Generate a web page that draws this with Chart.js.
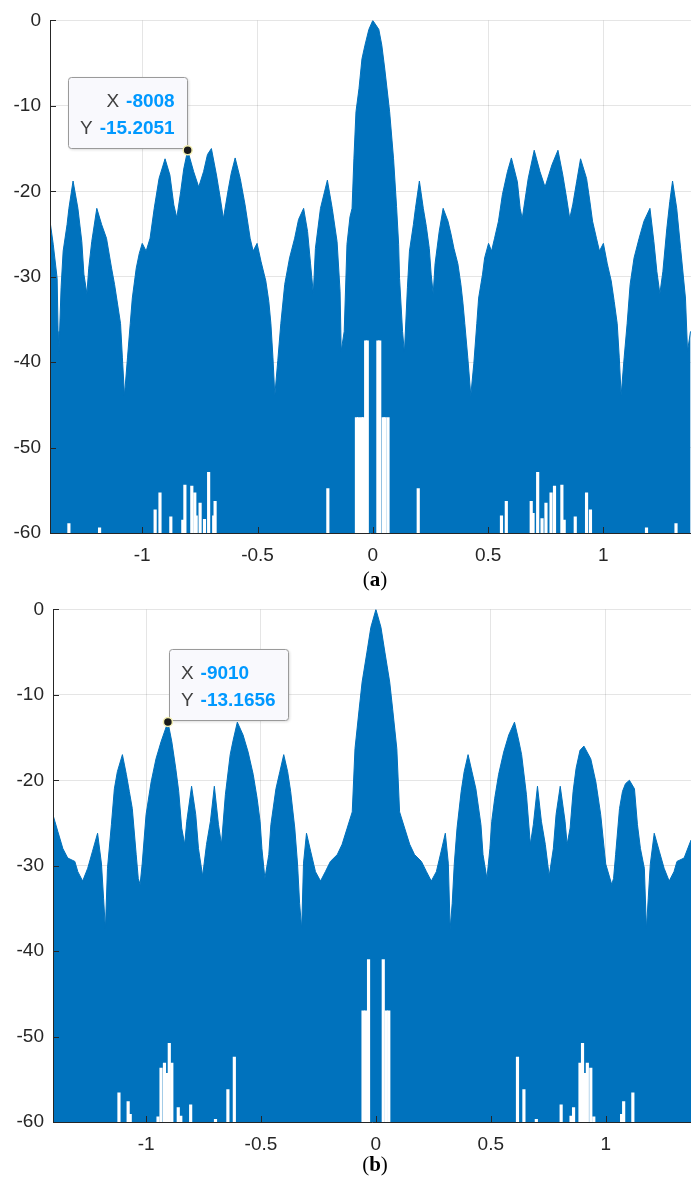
<!DOCTYPE html>
<html>
<head>
<meta charset="utf-8">
<script src="https://cdn.jsdelivr.net/npm/chart.js@4.4.0/dist/chart.umd.min.js"></script>
<style>
  html, body { margin: 0; padding: 0; background: #fff; }
  body { width: 697px; height: 1184px; position: relative; overflow: hidden; }
  .panel { position: absolute; left: 0; }
  #wrapA { top: 0; }
  #wrapB { top: 589px; }
  .cap { position: absolute; left: 0; width: 750px; text-align: center;
         font: 21px "Liberation Serif", "DejaVu Serif", serif; color: #000; }
  .cap b { font-weight: bold; }
</style>
</head>
<body>
<div class="panel" id="wrapA"><canvas id="chartA" width="697" height="580"></canvas></div>
<div class="panel" id="wrapB"><canvas id="chartB" width="697" height="580"></canvas></div>
<div class="cap" style="top:567px">(<b>a</b>)</div>
<div class="cap" style="top:1152px">(<b>b</b>)</div>
<script>
// axis ticks
const xTicks = [-1, -0.5, 0, 0.5, 1];
const yTicks = [-60, -50, -40, -30, -20, -10, 0];
const rangeA = [-1.40, 1.38];
const rangeB = [-1.405, 1.371];

// (a) upper envelope of the spectrum, [x, dB]
const envA = [
  [-1.40,-23.5],[-1.386,-26.2],[-1.369,-30.2],[-1.365,-36.4],[-1.361,-38.7],
  [-1.352,-31.3],[-1.343,-27.0],[-1.326,-23.9],[-1.318,-22.0],[-1.300,-18.8],
  [-1.279,-22.0],[-1.262,-25.9],[-1.253,-29.7],[-1.240,-32.0],
  [-1.232,-29.0],[-1.219,-25.9],[-1.197,-22.0],
  [-1.176,-23.9],[-1.155,-25.5],[-1.133,-29.0],[-1.120,-30.9],[-1.107,-33.2],[-1.094,-35.5],[-1.086,-39.5],[-1.077,-43.9],
  [-1.064,-39.5],[-1.052,-35.5],[-1.043,-32.5],[-1.026,-29.0],[-1.013,-27.3],[-1.000,-26.1],[-0.983,-27.0],[-0.966,-25.5],[-0.948,-22.0],[-0.927,-18.5],[-0.901,-16.2],
  [-0.880,-18.1],[-0.863,-21.6],[-0.850,-23.1],
  [-0.833,-20.0],[-0.820,-17.4],[-0.803,-15.2],
  [-0.777,-17.7],[-0.755,-19.5],
  [-0.734,-17.7],[-0.717,-15.7],[-0.700,-15.0],
  [-0.678,-18.1],[-0.661,-20.9],[-0.648,-23.2],
  [-0.627,-19.8],[-0.614,-17.9],[-0.597,-16.1],
  [-0.575,-18.5],[-0.554,-21.6],[-0.532,-25.5],[-0.519,-27.0],[-0.502,-26.1],[-0.485,-28.2],[-0.464,-30.5],[-0.451,-32.9],[-0.442,-35.5],[-0.433,-39.5],[-0.425,-43.9],
  [-0.412,-39.8],[-0.399,-35.5],[-0.382,-30.9],[-0.361,-27.8],[-0.339,-25.5],[-0.322,-23.3],[-0.300,-22.0],
  [-0.283,-24.7],[-0.270,-28.5],[-0.258,-32.0],
  [-0.249,-26.7],[-0.227,-22.0],[-0.197,-18.7],
  [-0.176,-22.0],[-0.155,-25.9],[-0.142,-31.7],[-0.137,-38.7],
  [-0.124,-36.4],[-0.112,-26.2],[-0.099,-23.0],[-0.090,-22.0],[-0.082,-16.2],[-0.073,-10.7],[-0.060,-8.0],[-0.047,-4.5],[-0.034,-2.9],[-0.017,-1.05],[0,0],
  [0.026,-1.05],[0.039,-2.9],[0.052,-5.7],[0.073,-10.7],[0.090,-16.2],[0.103,-21.8],[0.112,-26.2],[0.116,-30.2],[0.129,-36.4],[0.137,-38.9],
  [0.150,-31.3],[0.159,-27.0],[0.176,-23.9],[0.185,-22.0],[0.202,-18.8],
  [0.219,-22.0],[0.232,-24.1],[0.245,-26.7],[0.253,-29.7],[0.262,-32.0],
  [0.270,-28.5],[0.288,-24.7],[0.305,-22.0],
  [0.326,-23.5],[0.339,-25.0],[0.352,-26.7],[0.369,-28.5],[0.382,-30.9],[0.391,-33.1],[0.399,-35.5],[0.412,-39.5],[0.425,-43.9],
  [0.438,-40.2],[0.451,-35.5],[0.459,-32.5],[0.476,-29.7],[0.485,-27.8],[0.502,-26.1],[0.515,-27.0],[0.528,-25.5],[0.545,-23.5],[0.562,-20.4],[0.584,-17.7],[0.601,-16.1],
  [0.627,-18.9],[0.639,-22.0],[0.648,-23.2],
  [0.674,-18.5],[0.700,-15.2],
  [0.725,-17.7],[0.747,-19.5],
  [0.777,-16.9],[0.803,-15.2],
  [0.824,-18.1],[0.841,-20.9],[0.854,-23.2],
  [0.867,-21.6],[0.884,-18.9],[0.901,-16.2],
  [0.927,-18.5],[0.940,-20.9],[0.953,-23.5],[0.970,-25.5],[0.983,-27.0],[1.000,-26.1],[1.017,-28.5],[1.034,-30.5],[1.047,-32.9],[1.060,-35.5],[1.069,-39.5],[1.077,-43.9],
  [1.090,-39.5],[1.103,-35.5],[1.116,-30.9],[1.133,-27.8],[1.155,-25.5],[1.176,-23.5],[1.202,-22.0],
  [1.219,-25.9],[1.232,-29.4],[1.245,-32.0],
  [1.258,-29.4],[1.275,-24.4],[1.288,-21.2],[1.300,-18.8],
  [1.318,-22.0],[1.335,-26.7],[1.356,-32.5],[1.365,-38.7],[1.378,-36.4]
];

// (a) white notches reaching up from the floor, [x, top dB]
const gapsA = [
  [-1.318,-58.9],[-1.185,-59.4],[-0.944,-57.3],[-0.923,-55.3],[-0.876,-58.1],[-0.824,-58.5],[-0.815,-54.4],
  [-0.785,-54.5],[-0.772,-55.3],[-0.766,-58.0],[-0.749,-56.5],[-0.730,-58.4],[-0.712,-52.9],[-0.690,-58.0],[-0.684,-56.3],
  [-0.195,-54.8],
  [-0.071,-46.5],[-0.062,-46.5],[-0.049,-46.5],[-0.041,-46.5],[-0.031,-37.5],[-0.024,-37.5],
  [0.022,-37.5],[0.030,-37.5],[0.045,-46.5],[0.053,-46.5],[0.066,-46.5],
  [0.197,-54.8],
  [0.558,-58.0],[0.579,-56.3],[0.687,-56.3],[0.695,-57.7],[0.715,-52.9],[0.734,-58.3],[0.751,-56.5],[0.773,-55.3],
  [0.788,-54.5],[0.820,-54.4],[0.830,-58.5],[0.878,-58.1],[0.927,-55.3],[0.944,-57.3],[1.187,-59.4],[1.315,-58.9]
];

// (b) upper envelope
const envB = [
  [-1.409,-23.7],[-1.397,-24.8],[-1.384,-26.0],[-1.362,-28.0],[-1.341,-29.1],[-1.310,-29.5],[-1.297,-30.7],[-1.276,-31.8],
  [-1.254,-30.3],[-1.233,-28.3],[-1.211,-26.2],
  [-1.194,-29.8],[-1.185,-33.8],[-1.177,-37.4],
  [-1.168,-30.3],[-1.151,-25.2],[-1.138,-21.0],[-1.125,-19.0],[-1.103,-17.0],
  [-1.086,-19.3],[-1.073,-21.3],[-1.060,-23.3],[-1.043,-28.7],[-1.034,-31.5],[-1.026,-32.2],
  [-1.017,-29.8],[-1.000,-24.0],[-0.978,-20.2],[-0.957,-17.5],[-0.935,-15.5],[-0.905,-13.17],
  [-0.888,-15.5],[-0.871,-18.6],[-0.858,-21.3],[-0.845,-25.6],[-0.832,-27.5],
  [-0.823,-24.8],[-0.802,-20.7],
  [-0.784,-24.0],[-0.772,-28.0],[-0.754,-31.2],
  [-0.737,-27.5],[-0.720,-24.8],[-0.703,-20.7],
  [-0.685,-25.2],[-0.672,-27.5],
  [-0.655,-21.7],[-0.634,-17.0],[-0.621,-15.3],[-0.603,-13.2],
  [-0.578,-14.7],[-0.556,-16.7],[-0.534,-19.3],[-0.517,-22.1],[-0.504,-24.8],[-0.496,-28.0],[-0.483,-31.5],
  [-0.466,-28.7],[-0.457,-25.2],[-0.435,-21.0],[-0.418,-19.0],[-0.401,-17.0],
  [-0.384,-19.0],[-0.371,-21.3],[-0.353,-25.6],[-0.341,-29.8],[-0.332,-34.4],[-0.323,-37.4],
  [-0.315,-29.7],[-0.302,-26.2],
  [-0.284,-28.3],[-0.263,-30.7],[-0.241,-31.8],
  [-0.220,-30.7],[-0.198,-29.5],[-0.168,-28.7],[-0.147,-27.5],[-0.125,-25.6],[-0.103,-23.7],
  [-0.091,-16.3],[-0.073,-11.7],[-0.060,-8.5],[-0.039,-5.0],[-0.022,-2.1],[0,0],
  [0.022,-2.1],[0.039,-5.0],[0.060,-8.5],[0.073,-11.7],[0.091,-16.3],[0.103,-23.7],
  [0.125,-25.6],[0.147,-27.5],[0.168,-28.7],[0.198,-29.5],[0.220,-30.7],[0.241,-31.8],
  [0.263,-30.7],[0.284,-28.3],[0.302,-26.2],
  [0.315,-29.7],[0.323,-37.4],[0.332,-34.4],[0.341,-29.8],[0.353,-25.6],[0.371,-21.3],[0.384,-19.0],[0.401,-17.0],
  [0.418,-19.0],[0.435,-21.0],[0.457,-25.2],[0.466,-28.7],[0.483,-31.5],
  [0.496,-28.0],[0.504,-24.8],[0.517,-22.1],[0.534,-19.3],[0.556,-16.7],[0.578,-14.7],[0.603,-13.2],
  [0.621,-15.3],[0.634,-17.0],[0.655,-21.7],[0.672,-27.5],
  [0.685,-25.2],[0.703,-20.7],
  [0.720,-24.8],[0.737,-27.5],[0.754,-31.2],
  [0.772,-28.0],[0.784,-24.0],[0.802,-20.7],
  [0.823,-24.8],[0.832,-27.5],
  [0.845,-25.6],[0.858,-21.3],[0.871,-18.6],[0.888,-16.5],[0.905,-16.0],
  [0.935,-17.5],[0.957,-20.2],[0.978,-24.0],[1.000,-29.8],[1.026,-32.2],
  [1.034,-31.5],[1.043,-28.7],[1.060,-23.3],[1.073,-21.3],[1.086,-20.4],[1.103,-20.0],
  [1.125,-21.0],[1.138,-25.2],[1.151,-28.0],[1.168,-30.3],[1.177,-37.4],
  [1.185,-33.8],[1.194,-29.8],[1.211,-26.2],
  [1.233,-28.3],[1.254,-30.3],[1.276,-31.8],
  [1.297,-30.7],[1.310,-29.5],[1.341,-29.1],[1.371,-27.0]
];

// (b) white notches
const gapsB = [
  [-1.118,-56.6],[-1.078,-57.6],[-1.069,-59.1],[-0.948,-59.4],[-0.935,-53.7],[-0.920,-53.1],[-0.909,-54.3],
  [-0.899,-50.8],[-0.888,-53.1],[-0.860,-58.3],[-0.849,-59.3],[-0.806,-58.0],[-0.698,-59.7],[-0.644,-56.2],[-0.616,-52.4],
  [-0.056,-47.0],[-0.045,-47.0],[-0.032,-41.0],[0.032,-41.0],[0.045,-47.0],[0.056,-47.0],
  [0.616,-52.4],[0.644,-56.2],[0.698,-59.7],[0.806,-58.0],[0.849,-59.3],[0.860,-58.3],[0.888,-53.1],
  [0.899,-50.8],[0.909,-54.3],[0.920,-53.1],[0.935,-53.7],[0.948,-59.4],[1.069,-59.1],[1.078,-57.6],[1.118,-56.6]
];

// data tips
const tipA = { x: -0.803, y: -15.2051, labelX: '-8008', labelY: '-15.2051' };
const tipB = { x: -0.905, y: -13.1656, labelX: '-9010', labelY: '-13.1656' };

const BLUE = '#0072BD';
const AXIS = '#262626';
const FONT = '"Liberation Sans", Arial, Helvetica, sans-serif';
Chart.defaults.font.family = FONT;

// axes on top of the fill, MATLAB style inward ticks, plus the data tip box
const overlay = {
  id: 'overlay',
  afterDatasetDraw(chart, args) {
    if (args.index !== 1) return;
    const ctx = chart.ctx, a = chart.chartArea;
    const sx = chart.scales.x, sy = chart.scales.y;
    ctx.save();
    ctx.strokeStyle = AXIS;
    ctx.lineWidth = 1;
    ctx.beginPath();
    ctx.moveTo(a.left + 0.5, a.top);
    ctx.lineTo(a.left + 0.5, a.bottom + 0.5);
    ctx.lineTo(a.right, a.bottom + 0.5);
    yTicks.forEach(v => {
      const y = Math.round(sy.getPixelForValue(v)) + 0.5;
      ctx.moveTo(a.left, y); ctx.lineTo(a.left + 6, y);
    });
    xTicks.forEach(v => {
      const x = Math.round(sx.getPixelForValue(v)) + 0.5;
      ctx.moveTo(x, a.bottom); ctx.lineTo(x, a.bottom - 6);
    });
    ctx.stroke();

    // data tip box
    const tip = chart.options.plugins.overlay.tip;
    const align = chart.options.plugins.overlay.align;
    const px = sx.getPixelForValue(tip.x), py = sy.getPixelForValue(tip.y);
    const w = 119, h = 71;
    const bx = align === 'right' ? px - w - 1 : px + 1;
    const by = py - h - 2;
    ctx.shadowColor = 'rgba(0,0,0,0.18)';
    ctx.shadowBlur = 3;
    ctx.shadowOffsetX = 1;
    ctx.shadowOffsetY = 1;
    ctx.fillStyle = '#f9f9fd';
    ctx.beginPath();
    ctx.roundRect(Math.round(bx) + 0.5, Math.round(by) + 0.5, w, h, 3);
    ctx.fill();
    ctx.shadowColor = 'transparent';
    ctx.strokeStyle = '#9a9a9a';
    ctx.stroke();

    const rows = [['X', tip.labelX], ['Y', tip.labelY]];
    const bold = 'bold 19px ' + FONT, reg = '19px ' + FONT;
    ctx.textBaseline = 'alphabetic';
    rows.forEach((r, i) => {
      const base = by + 30 + i * 27;
      ctx.font = bold;
      const vw = ctx.measureText(r[1]).width;
      ctx.font = reg;
      const lw = ctx.measureText(r[0]).width;
      let lx;
      if (align === 'right') lx = bx + w - 12 - vw - 7 - lw;
      else lx = bx + 12;
      ctx.fillStyle = '#404040';
      ctx.font = reg;
      ctx.fillText(r[0], lx, base);
      ctx.fillStyle = '#0099FF';
      ctx.font = bold;
      ctx.fillText(r[1], lx + lw + 7, base);
    });
    ctx.restore();
  }
};

function makeChart(id, env, gaps, tip, range, axisW, align) {
  return new Chart(document.getElementById(id), {
    type: 'line',
    data: {
      datasets: [
        {
          type: 'line',
          data: env.map(p => ({ x: p[0], y: p[1] })),
          borderColor: BLUE,
          backgroundColor: BLUE,
          borderWidth: 1,
          fill: 'start',
          pointRadius: 0,
          tension: 0,
          order: 3
        },
        {
          type: 'bar',
          data: gaps.map(p => ({ x: p[0], y: [-60, p[1]] })),
          backgroundColor: '#ffffff',
          borderWidth: 0,
          barThickness: 2.5,
          grouped: false,
          order: 1
        },
        {
          type: 'scatter',
          data: [{ x: tip.x, y: tip.y }],
          pointRadius: 4.5,
          backgroundColor: '#1a1a1a',
          borderColor: '#f2eeb0',
          borderWidth: 1.5,
          order: 0
        }
      ]
    },
    options: {
      responsive: false,
      animation: false,
      layout: { padding: { top: 18, right: 0, left: 0, bottom: 0 } },
      plugins: {
        legend: { display: false },
        tooltip: { enabled: false },
        overlay: { tip: tip, align: align }
      },
      scales: {
        x: {
          type: 'linear',
          min: range[0], max: range[1],
          offset: false,
          afterBuildTicks: s => { s.ticks = xTicks.map(v => ({ value: v })); },
          afterFit: s => { s.height = 47; },
          grid: { color: 'rgba(38,38,38,0.12)', drawTicks: false, offset: false },
          border: { display: false },
          ticks: { color: AXIS, font: { size: 19 }, padding: 11, maxRotation: 0, autoSkip: false,
                   callback: v => String(v) }
        },
        y: {
          type: 'linear',
          min: -60, max: 0,
          afterBuildTicks: s => { s.ticks = yTicks.map(v => ({ value: v })); },
          afterFit: s => { s.width = axisW; },
          grid: { color: 'rgba(38,38,38,0.12)', drawTicks: false },
          border: { display: false },
          ticks: { color: AXIS, font: { size: 19 }, padding: 9, callback: v => String(v) }
        }
      }
    },
    plugins: [overlay]
  });
}

makeChart('chartA', envA, gapsA, tipA, rangeA, 50, 'right');
makeChart('chartB', envB, gapsB, tipB, rangeB, 53, 'left');
</script>
</body>
</html>
